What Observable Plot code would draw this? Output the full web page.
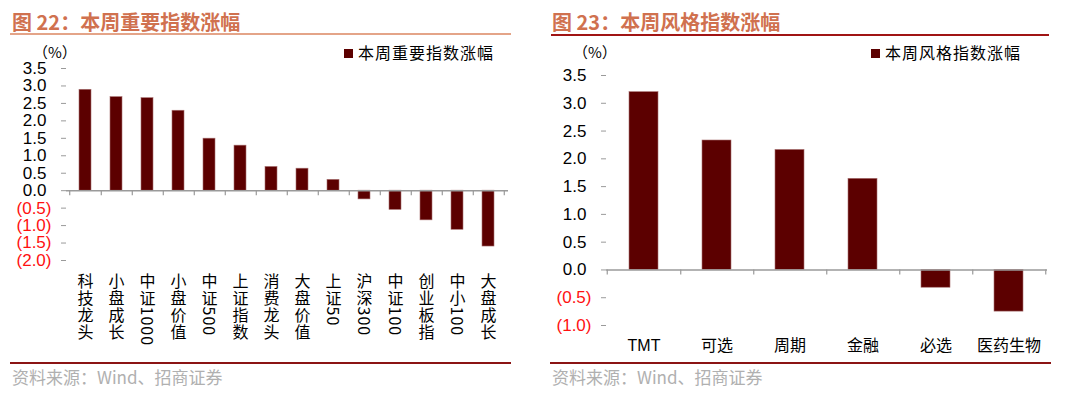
<!DOCTYPE html>
<html>
<head>
<meta charset="utf-8">
<script src="https://cdn.jsdelivr.net/npm/d3@7"></script>
<script src="https://cdn.jsdelivr.net/npm/@observablehq/plot@0.6"></script>
<style>
  html, body { margin: 0; padding: 0; background: #fff; }
  body { width: 1080px; height: 395px; position: relative; overflow: hidden; font-family: "Liberation Sans", Arial, "Noto Sans CJK SC", sans-serif; }
  .panel { position: absolute; top: 0; width: 540px; height: 395px; }
  .title { position: absolute; left: 12px; top: 8px; font: bold 20px "Noto Sans CJK SC", sans-serif; color: #d0714f; white-space: nowrap; line-height: 28px; }
  .uline { position: absolute; left: 10px; width: 501px; height: 2px; }
  .unit { position: absolute; left: 33px; top: 42px; font: 15px "Noto Sans CJK SC", sans-serif; color: #000; line-height: 20px; }
  .legend { position: absolute; top: 42px; font: 16px "Noto Sans CJK SC", sans-serif; letter-spacing: 1px; color: #000; line-height: 20px; white-space: nowrap; }
  .legend i { display: inline-block; width: 9px; height: 9px; background: #5c0000; margin-right: 5px; vertical-align: 1px; }
  .chart { position: absolute; left: 0; top: 40px; }
  .fline { position: absolute; left: 10px; top: 362px; width: 501px; height: 2px; background: #8b1414; }
  .source { position: absolute; left: 12px; top: 367px; font: 17px "Noto Sans CJK SC", sans-serif; color: #b0b0b0; line-height: 20px; white-space: nowrap; }
</style>
</head>
<body>
<div class="panel" style="left:0">
  <div class="title">图 22：本周重要指数涨幅</div>
  <div class="uline" style="top:33px;background:#e4a488"></div>
  <div class="unit">（%）</div>
  <div class="legend" style="left:344px"><i></i>本周重要指数涨幅</div>
  <div class="chart" id="left"></div>
  <div class="fline"></div>
  <div class="source">资料来源：Wind、招商证券</div>
</div>
<div class="panel" style="left:540px">
  <div class="title">图 23：本周风格指数涨幅</div>
  <div class="uline" style="top:34px;left:11px;width:498px;background:#a01414"></div>
  <div class="unit">（%）</div>
  <div class="legend" style="left:331px"><i></i>本周风格指数涨幅</div>
  <div class="chart" id="right"></div>
  <div class="fline"></div>
  <div class="source">资料来源：Wind、招商证券</div>
</div>
<script>
// ---- Data ----
const leftCategories = ["科技龙头","小盘成长","中证1000","小盘价值","中证500","上证指数","消费龙头","大盘价值","上证50","沪深300","中证100","创业板指","中小100","大盘成长"];
const leftValues = [2.89, 2.68, 2.65, 2.29, 1.49, 1.29, 0.68, 0.63, 0.31, -0.25, -0.55, -0.85, -1.12, -1.60];
const leftYTicks = [-2.0, -1.5, -1.0, -0.5, 0.0, 0.5, 1.0, 1.5, 2.0, 2.5, 3.0, 3.5];

const rightCategories = ["TMT","可选","周期","金融","必选","医药生物"];
const rightValues = [3.20, 2.33, 2.16, 1.64, -0.32, -0.75];
const rightYTicks = [-1.0, -0.5, 0.0, 0.5, 1.0, 1.5, 2.0, 2.5, 3.0, 3.5];

const FONT = '"Liberation Sans", Arial, "Noto Sans CJK SC", sans-serif';
const BAR = "#5c0000";
const AXIS = "#9a9a9a";

function makeChart(o) {
  const data = o.cats.map((c, i) => ({cat: c, v: o.vals[i]}));
  const step = (o.width - o.ml - o.mr) / o.cats.length;
  const posTicks = o.yTicks.filter(t => t >= 0);
  const negTicks = o.yTicks.filter(t => t < 0);
  const svg = Plot.plot({
    width: o.width, height: o.height,
    marginTop: o.mt, marginRight: o.mr, marginBottom: o.mb, marginLeft: o.ml,
    style: {fontFamily: FONT, fontSize: "16px", background: "transparent", color: "#000", overflow: "visible"},
    x: {domain: o.cats, paddingInner: 0.6, paddingOuter: 0.3, label: null},
    y: {domain: o.yDomain, label: null},
    marks: [
      Plot.barY(data, {x: "cat", y: "v", fill: BAR, stroke: "#a87070", strokeWidth: 0.6}),
      Plot.axisY(posTicks, {tickSize: 5, tickPadding: 15, stroke: AXIS, fill: "#000", line: true, tickFormat: d => d.toFixed(1), fontSize: 17, label: null}),
      Plot.axisY(negTicks, {tickSize: 5, tickPadding: 10, stroke: AXIS, fill: "#ff1010", tickFormat: d => `(${Math.abs(d).toFixed(1)})`, fontSize: 17, label: null}),
      Plot.ruleY([0], {stroke: AXIS, strokeWidth: 1.5}),
      Plot.ruleX(data, {x: "cat", y1: () => 0, y2: () => 0, insetBottom: -5, dx: step / 2, stroke: AXIS, strokeWidth: 1.2}),
      Plot.ruleX([data[0]], {x: "cat", y1: () => 0, y2: () => 0, insetBottom: -5, dx: -step / 2, stroke: AXIS, strokeWidth: 1.2}),
      Plot.axisX({anchor: "bottom", tickSize: 0, tickPadding: o.labelPad, fill: "#000", fontSize: 16, label: null})
    ]
  });
  if (o.vertical) {
    svg.querySelectorAll('g[aria-label="x-axis tick label"] text').forEach(t => {
      t.setAttribute("y", "0");
      t.removeAttribute("dy");
      t.setAttribute("text-anchor", "start");
      t.style.writingMode = "vertical-rl";
      t.style.letterSpacing = "1px";
      t.style.fontFamily = '"Noto Sans CJK SC", sans-serif';
    });
  }
  return svg;
}

document.getElementById("left").appendChild(makeChart({
  cats: leftCategories, vals: leftValues, yDomain: [-2, 3.5], yTicks: leftYTicks,
  width: 530, height: 320, mt: 28, mr: 22, mb: 100, ml: 66, labelPad: 12, vertical: true
}));
document.getElementById("right").appendChild(makeChart({
  cats: rightCategories, vals: rightValues, yDomain: [-1, 3.5], yTicks: rightYTicks,
  width: 530, height: 320, mt: 35, mr: 23, mb: 35, ml: 66, labelPad: 14, vertical: false
}));
</script>
</body>
</html>
